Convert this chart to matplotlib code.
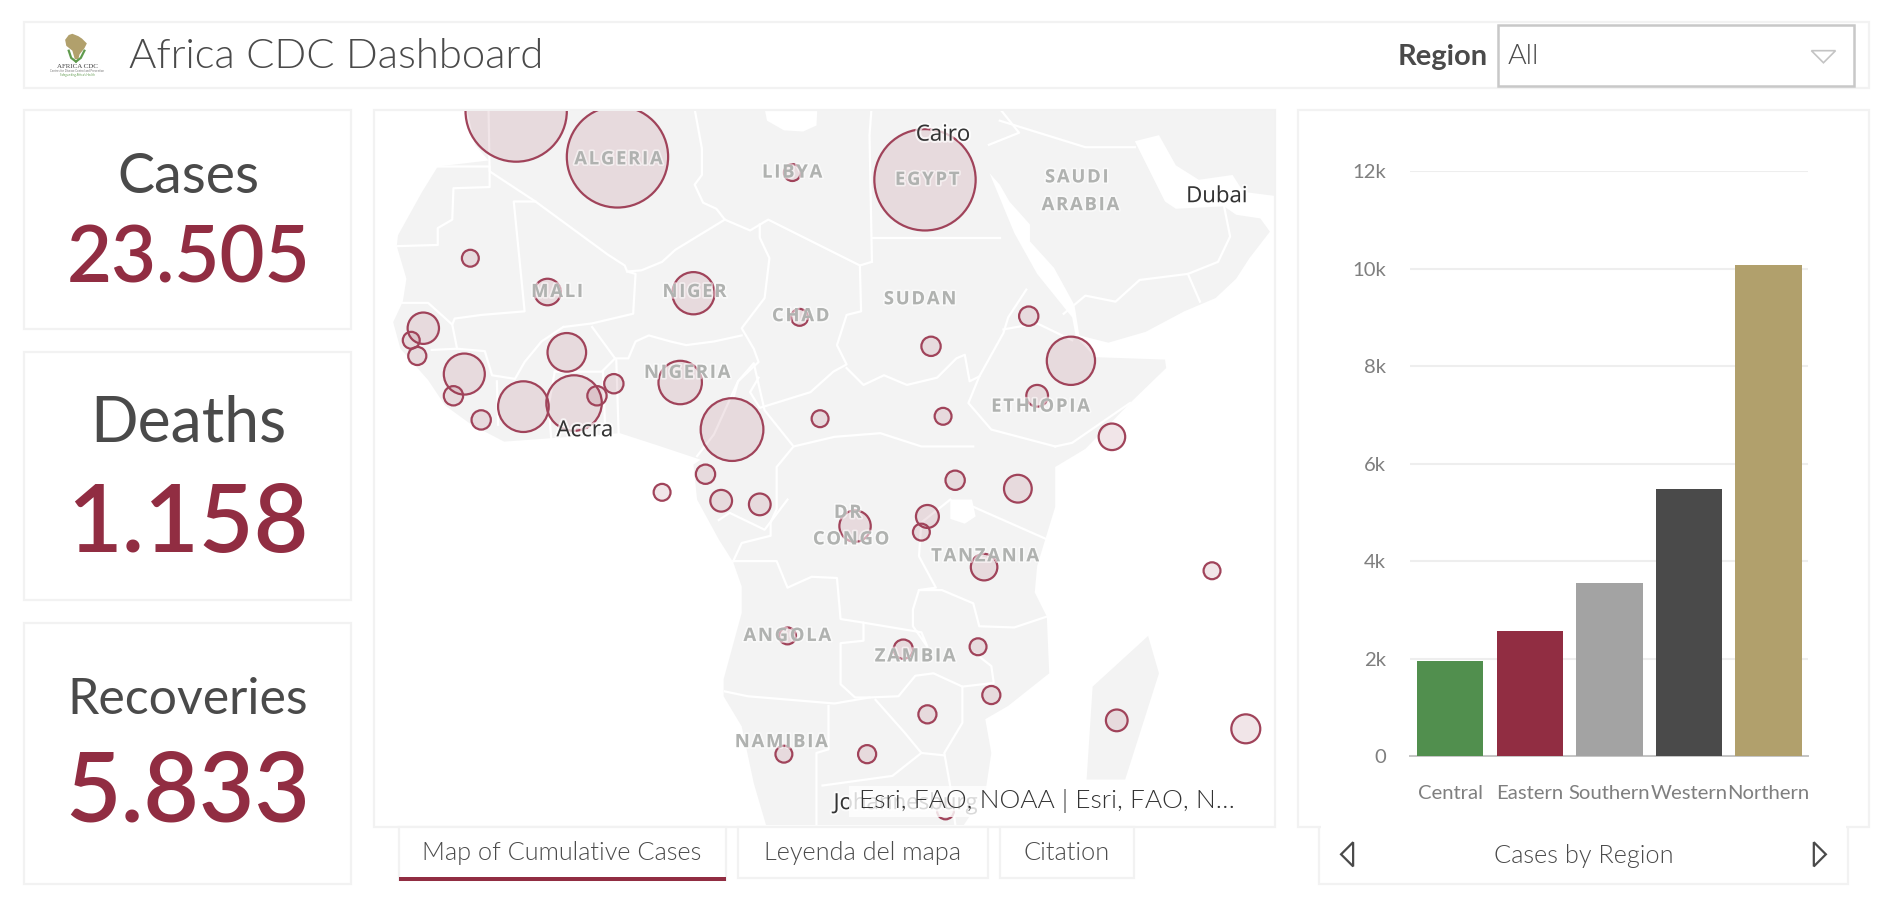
# Africa CDC dashboard, rebuilt from a screenshot
import matplotlib
matplotlib.use('Agg')
import matplotlib.pyplot as plt
import matplotlib.patheffects as pe
from matplotlib.colors import to_rgba
from matplotlib.patches import Circle, Polygon, Rectangle

# Bar chart
regions = ['Central', 'Eastern', 'Southern', 'Western', 'Northern']
region_cases = [1945, 2555, 3550, 5480, 10075]
region_colors = ['#518f4e', '#912d42', '#a3a3a3', '#4a4a4a', '#b1a06c']
y_ticks = [0, 2000, 4000, 6000, 8000, 10000, 12000]
y_tick_labels = ['0', '2k', '4k', '6k', '8k', '10k', '12k']

# Headline numbers
kpi_names = ['Cases', 'Deaths', 'Recoveries']
kpi_values = ['23.505', '1.158', '5.833']

# Case circles on the map, in map units
circle_x = [428, 512, 657, 767, 390, 454, 575, 663, 772, 853, 888, 351, 341, 346, 385, 376, 399, 434, 476, 470,
            495, 509, 564, 607, 680, 782, 860, 922, 792, 844, 585, 549, 598, 630, 709, 769, 764, 816, 1005, 653,
            749, 811, 822, 769, 926, 1033, 650, 719, 784]
circle_y = [92, 130, 143, 149, 214, 242, 243, 263, 287, 262, 299, 272, 282, 295, 310, 328, 348, 337, 334, 292,
            328, 318, 317, 356, 347, 345, 328, 362, 398, 405, 393, 408, 415, 418, 436, 428, 441, 470, 473, 527,
            538, 536, 576, 592, 597, 604, 625, 625, 672]
circle_r = [42, 42, 7, 42, 7, 11, 17.5, 7, 8, 8, 20, 13, 7, 7.5, 17, 8, 8, 21, 23, 16,
            8, 8, 18, 26, 7, 7, 9, 11, 8, 11.5, 8, 7, 9, 9, 13, 9.5, 7, 11, 7, 7,
            8, 7, 7.5, 7.5, 9, 12, 7, 7.5, 7]

# Land outline in map units (Africa and Arabia join above the top edge)
land_x = [386, 633, 636, 650, 666, 677, 678, 1062, 1062, 1031, 1022, 994, 975, 961, 941, 952, 966, 975, 1015, 1025,
          1045, 1053, 1036, 1025, 1008, 982, 950, 919, 895, 891, 874, 854, 854, 837, 829, 812, 817, 841, 860, 889,
          892, 908, 966, 967, 937, 900, 875, 875, 860, 858, 868, 870, 836, 817, 822, 817, 795, 637, 625, 615,
          600, 600, 615, 615, 608, 596, 578, 575, 581, 548, 514, 418, 391, 369, 355, 332, 326, 334, 337, 329,
          330, 350, 363, 405, 394]
land_y = [85, 85, 100, 108, 109, 104, 85, 85, 163, 159, 145, 149, 137, 112, 117, 139, 167, 173, 171, 178,
          181, 192, 214, 231, 247, 258, 275, 284, 278, 253, 222, 200, 186, 167, 153, 134, 135, 193, 227, 263,
          279, 296, 298, 305, 334, 372, 387, 420, 469, 491, 511, 558, 585, 596, 624, 657, 690, 690, 649, 602,
          577, 563, 508, 486, 466, 447, 414, 385, 381, 370, 359, 366, 352, 336, 315, 289, 267, 250, 231, 204,
          195, 159, 138, 133, 120]
madagascar_x = [952, 961, 933, 901, 906]
madagascar_y = [527, 558, 646, 646, 569]
lake_x = [788, 806, 809, 800, 788]
lake_y = [414, 414, 428, 434, 430]

# White country borders
borders = [
    [(363, 138), (406, 138), (406, 155), (376, 156), (375, 182), (363, 189), (363, 203), (329, 204)],
    [(405, 85), (406, 142), (444, 167), (504, 211), (518, 220), (520, 225), (527, 227), (525, 260), (491, 268), (467, 271)],
    [(444, 167), (426, 167), (435, 258), (399, 261), (377, 264), (375, 269), (355, 251), (333, 251)],
    [(520, 225), (532, 224), (549, 217), (560, 207), (601, 182)],
    [(575, 85), (582, 123), (582, 145), (576, 153), (583, 168), (594, 173), (601, 182), (622, 191), (637, 182), (713, 220), (723, 217)],
    [(723, 85), (721, 112), (723, 217)],
    [(723, 197), (829, 197)],
    [(630, 186), (630, 197), (638, 214), (634, 247), (615, 272), (625, 289), (629, 300), (612, 316), (608, 330)],
    [(615, 278), (592, 283), (569, 286), (556, 283), (538, 278), (527, 283), (521, 297), (510, 297), (491, 271)],
    [(713, 220), (714, 258), (702, 261), (694, 286), (702, 302), (691, 308), (672, 325), (630, 338), (622, 325), (629, 313)],
    [(702, 305), (716, 319), (733, 311), (752, 319), (777, 313), (793, 297), (800, 294), (804, 316), (812, 312)],
    [(851, 240), (836, 263), (832, 276), (812, 312), (803, 334), (822, 356), (875, 370)],
    [(832, 273), (860, 268), (889, 282)],
    [(937, 334), (889, 367), (875, 370)],
    [(608, 465), (644, 465), (653, 487), (673, 478), (694, 479), (697, 513), (716, 516), (716, 531), (697, 533), (697, 567), (709, 578), (721, 578)],
    [(601, 573), (620, 577), (692, 583), (721, 578), (745, 577), (759, 560), (774, 558), (798, 569), (798, 599), (783, 624), (788, 652), (793, 690)],
    [(687, 585), (687, 621), (677, 624), (677, 690)],
    [(716, 516), (740, 520), (764, 524), (769, 536), (757, 519), (757, 505), (762, 489), (776, 487), (762, 461), (764, 433), (788, 414)],
    [(762, 489), (781, 489), (807, 500), (812, 519), (841, 520), (868, 511)],
    [(808, 541), (822, 552), (824, 566), (798, 569)],
    [(726, 580), (750, 607), (764, 624), (783, 626)],
    [(764, 624), (740, 643), (682, 651)],
    [(807, 420), (875, 450)],
    [(596, 431), (605, 425), (634, 439), (653, 414)],
    [(608, 465), (615, 450), (639, 444), (639, 433), (644, 422), (644, 387), (658, 370), (692, 362), (730, 359), (764, 370), (807, 370)],
    [(658, 370), (634, 340), (625, 301), (612, 316), (592, 360), (578, 378)],
    [(379, 289), (358, 290)],
    [(375, 269), (379, 289), (402, 291), (408, 311), (427, 314), (435, 300), (449, 283), (467, 271)],
    [(460, 308), (499, 308), (510, 297)],
    [(500, 308), (502, 361)],
    [(511, 298), (513, 360)],
    [(460, 308), (455, 336), (457, 363)],
    [(412, 316), (413, 352)],
    [(829, 90), (845, 110), (820, 120)],
    [(829, 100), (900, 122), (941, 122)],
    [(882, 260), (900, 245), (925, 250), (945, 232), (985, 227), (1010, 217), (1020, 196), (1015, 171)],
    [(985, 227), (995, 250)],
]

# Map labels
country_names = ['ALGERIA', 'LIBYA', 'EGYPT', 'SAUDI', 'ARABIA', 'MALI', 'NIGER', 'CHAD', 'SUDAN', 'NIGERIA',
                 'ETHIOPIA', 'DR', 'CONGO', 'TANZANIA', 'ANGOLA', 'ZAMBIA', 'NAMIBIA']
country_x = [513, 657, 769, 893, 896, 462, 576, 664, 763, 570, 863, 703, 706, 817, 653, 759, 648]
country_y = [132, 143, 149, 147, 170, 242, 242, 262, 248, 309, 337, 425, 447, 461, 527, 544, 615]
city_names = ['Cairo', 'Dubai', 'Accra', 'Johannesburg']
city_x = [782, 1009, 485, 751]
city_y = [112, 163, 357, 666]

DARK = '#4a4a4a'
RED = '#912d42'
LINE = '#f2f2f2'
LAND = '#f3f3f3'
FONT = ['Lato', 'DejaVu Sans']

plt.rcParams['font.family'] = FONT

fig = plt.figure(figsize=(18.91, 9.05), dpi=100, facecolor='white')

# Page axes in screen units, everything that is not map or chart goes here
page = fig.add_axes([0, 0, 1, 1])
page.set_xlim(0, 1568)
page.set_ylim(750, 0)
page.axis('off')


def box(x0, y0, x1, y1, edge=LINE, lw=1.6, axis=page):
    axis.add_patch(Rectangle((x0, y0), x1 - x0, y1 - y0, fc='white', ec=edge, lw=lw))


def spaced(s):
    return '\u200a'.join(s)


# Header
box(20, 18, 1550, 73)
page.text(107, 47, 'Africa CDC Dashboard', fontsize=30.2, color=DARK, weight=300, va='center')
page.text(1159, 47, 'Region', fontsize=21, color=DARK, weight='bold', va='center')
box(1242, 21, 1537, 71, edge='#c8c8c8', lw=1.8)
page.text(1250, 47, 'All', fontsize=20.5, color=DARK, weight=300, va='center')
page.add_patch(Polygon([(1502, 42), (1522, 42), (1512, 52)], closed=True, fc='white', ec='#c4c4c4', lw=1.2))

# Logo
logo_x = [57, 60, 65, 68, 72, 70, 66, 65, 62, 60, 55, 54]
logo_y = [29, 28, 30, 32, 36, 40, 45, 49, 49, 42, 38, 33]
page.add_patch(Polygon(list(zip(logo_x, logo_y)), closed=True, fc='#b1a06c', ec='none'))
page.plot([57, 59, 63], [42, 48, 51], color='#5f9a4d', lw=1.6)
page.plot([70, 67, 63], [42, 48, 51], color='#5f9a4d', lw=1.6)
page.text(64, 55, 'AFRICA CDC', fontsize=5, family='Liberation Serif', color='#444444', ha='center', va='center')
page.text(64, 59, 'Centres for Disease Control and Prevention', fontsize=2, color='#777777', ha='center', va='center')
page.text(64, 62, 'Safeguarding Africa\'s Health', fontsize=2, color='#5f9a4d', ha='center', va='center')

# KPI cards
card_y = [(91, 273), (292, 497), (516, 733)]
name_y = [147, 351, 580]
name_size = [40, 45, 36]
value_y = [216, 435, 658]
value_size = [56, 68, 69]
for i in range(3):
    box(20, card_y[i][0], 291, card_y[i][1])
    page.text(156, name_y[i], kpi_names[i], fontsize=name_size[i], color=DARK, ha='center', va='center')
    page.text(156, value_y[i], kpi_values[i], fontsize=value_size[i], color=RED, weight=600,
              ha='center', va='center')

# Tabs below the map
box(310, 91, 1057, 685)
box(331, 685, 602, 729)
box(612, 685, 819, 728)
box(829, 685, 940, 728)
page.add_patch(Rectangle((331, 726.5), 271, 3.5, fc=RED, ec='none', zorder=3))
page.text(466, 707, 'Map of Cumulative Cases', fontsize=18.2, color=DARK, weight=300, ha='center', va='center')
page.text(715, 707, 'Leyenda del mapa', fontsize=18.2, color=DARK, weight=300, ha='center', va='center')
page.text(884, 707, 'Citation', fontsize=18.2, color=DARK, weight=300, ha='center', va='center')

# Chart frame
box(1094, 680, 1532, 733)
box(1076, 91, 1550, 685)
page.add_patch(Rectangle((1095, 680), 436, 8, fc='white', ec='none', zorder=3))
page.text(1313, 709, 'Cases by Region', fontsize=18.2, color=DARK, weight=300, ha='center', va='center')
page.add_patch(Polygon([(1122, 698), (1122, 718), (1112, 708)], closed=True, fc='white', ec=DARK, lw=1.6))
page.add_patch(Polygon([(1504, 698), (1504, 718), (1514, 708)], closed=True, fc='white', ec=DARK, lw=1.6))

# Map
mp = fig.add_axes([311 / 1568, 1 - 684 / 750, 745 / 1568, 592 / 750])
mp.set_xlim(311, 1056)
mp.set_ylim(684, 92)
mp.axis('off')
mp.add_patch(Polygon(list(zip(land_x, land_y)), closed=True, fc=LAND, ec='none'))
mp.add_patch(Polygon(list(zip(madagascar_x, madagascar_y)), closed=True, fc=LAND, ec='none'))
for line in borders:
    mp.plot([p[0] for p in line], [p[1] for p in line], color='white', lw=1.6, solid_joinstyle='round', zorder=2)
mp.add_patch(Polygon(list(zip(lake_x, lake_y)), closed=True, fc='white', ec='none', zorder=2))

for x, y, r in zip(circle_x, circle_y, circle_r):
    mp.add_patch(Circle((x, y), r, fc=to_rgba(RED, 0.12), ec='#a0435a', lw=1.6, zorder=3))

halo = [pe.withStroke(linewidth=2.5, foreground=(1, 1, 1, 0.55))]
for name, x, y in zip(country_names, country_x, country_y):
    mp.text(x, y, spaced(name), fontsize=13.2, color='#b0b2b0', weight='bold', family=['Open Sans', 'DejaVu Sans'],
            ha='center', va='center', path_effects=halo, zorder=4)
for name, x, y in zip(city_names, city_x, city_y):
    mp.text(x, y, name, fontsize=16, color='#333333', family=['Open Sans', 'DejaVu Sans'], ha='center', va='center',
            path_effects=[pe.withStroke(linewidth=3, foreground=(1, 1, 1, 0.7))], zorder=5)
mp.add_patch(Rectangle((704, 651), 353, 26, fc=(1, 1, 1, 0.82), ec='none', zorder=6))
mp.text(712, 664, 'Esri, FAO, NOAA | Esri, FAO, N\u2026', fontsize=19, color='#333333', weight=300,
        va='center', zorder=7)

# Bars
bx = fig.add_axes([1169 / 1568, 1 - 626.5 / 750, 330 / 1568, 484.5 / 750])
bx.set_facecolor('none')
bx.bar(range(len(regions)), region_cases, width=0.833, color=region_colors, zorder=3)
bx.set_xlim(-0.508, 4.492)
bx.set_ylim(0, 12000)
bx.set_yticks(y_ticks)
bx.set_yticklabels(y_tick_labels)
bx.set_xticks(range(len(regions)))
bx.set_xticklabels(regions)
bx.grid(axis='y', color='#eeeeee', lw=1.5, zorder=0)
bx.tick_params(axis='both', length=0, colors='#7f7f7f', labelsize=14.6)
bx.tick_params(axis='y', pad=17)
bx.tick_params(axis='x', pad=21)
for side in ['top', 'left', 'right']:
    bx.spines[side].set_visible(False)
bx.spines['bottom'].set_color('#c4c4c4')
bx.spines['bottom'].set_linewidth(1.4)

fig.savefig('out.png', dpi=100)
